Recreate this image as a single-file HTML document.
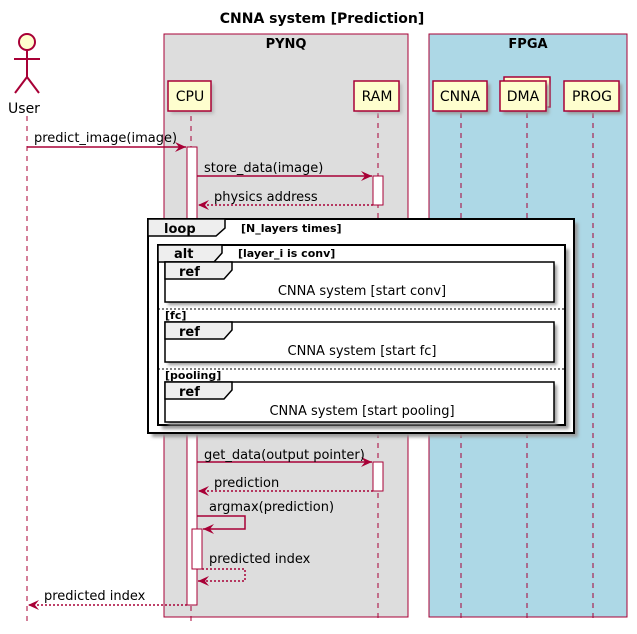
<!DOCTYPE html>
<html><head><style>body{margin:0;background:#fff}svg{display:block}text{font-family:"DejaVu Sans","Liberation Sans",sans-serif}</style></head>
<body>
<svg width="637" height="634" xmlns="http://www.w3.org/2000/svg">
<defs>
<filter id="sh" x="-10%" y="-10%" width="130%" height="130%"><feGaussianBlur stdDeviation="1.5"/></filter>
<marker id="ah" markerWidth="12" markerHeight="10" refX="11" refY="5" orient="auto" markerUnits="userSpaceOnUse"><path d="M0,0 L11,5 L0,10 L4,5 Z" fill="#A80036"/></marker>
</defs>
<text x="322" y="23" font-size="14" font-weight="bold" text-anchor="middle">CNNA system [Prediction]</text>
<rect x="164" y="34" width="244" height="583" fill="#DDDDDD" stroke="#A80036"/>
<text x="286" y="48" font-size="13" font-weight="bold" text-anchor="middle">PYNQ</text>
<rect x="429" y="34" width="198" height="583" fill="#ADD8E6" stroke="#A80036"/>
<text x="528" y="48" font-size="13" font-weight="bold" text-anchor="middle">FPGA</text>
<g stroke="#A80036" stroke-dasharray="5,5" stroke-width="1">
<line x1="27" y1="116" x2="27" y2="622"/><line x1="191" y1="116" x2="191" y2="622"/>
<line x1="378" y1="113" x2="378" y2="622"/><line x1="461" y1="113" x2="461" y2="622"/>
<line x1="527" y1="113" x2="527" y2="622"/><line x1="593" y1="113" x2="593" y2="622"/>
</g>
<g stroke="#A80036" stroke-width="2" fill="none">
<circle cx="27" cy="42" r="8" fill="#FEFECE"/>
<line x1="27" y1="50" x2="27" y2="77"/><line x1="14" y1="59" x2="40" y2="59"/>
<line x1="27" y1="77" x2="15" y2="93"/><line x1="27" y1="77" x2="39" y2="93"/>
</g>
<text x="24" y="113" font-size="14" text-anchor="middle">User</text>
<g font-size="14" text-anchor="middle">
<rect x="171" y="84" width="43" height="30" fill="#bbb" filter="url(#sh)"/>
<rect x="168" y="81" width="43" height="30" fill="#FEFECE" stroke="#A80036" stroke-width="1.5"/><text x="190" y="101">CPU</text>
<rect x="357" y="84" width="45" height="30" fill="#bbb" filter="url(#sh)"/>
<rect x="354" y="81" width="45" height="30" fill="#FEFECE" stroke="#A80036" stroke-width="1.5"/><text x="377" y="101">RAM</text>
<rect x="436" y="84" width="54" height="30" fill="#999" filter="url(#sh)"/>
<rect x="433" y="81" width="54" height="30" fill="#FEFECE" stroke="#A80036" stroke-width="1.5"/><text x="460" y="101">CNNA</text>
<rect x="504" y="77" width="46" height="30" fill="#FEFECE" stroke="#A80036" stroke-width="1.5"/>
<rect x="503" y="84" width="46" height="30" fill="#999" filter="url(#sh)"/>
<rect x="500" y="81" width="46" height="30" fill="#FEFECE" stroke="#A80036" stroke-width="1.5"/><text x="523" y="101">DMA</text>
<rect x="567" y="84" width="55" height="30" fill="#999" filter="url(#sh)"/>
<rect x="564" y="81" width="55" height="30" fill="#FEFECE" stroke="#A80036" stroke-width="1.5"/><text x="592" y="101">PROG</text>
</g>
<rect x="187" y="147" width="10" height="458" fill="#fff" stroke="#A80036"/>
<rect x="373" y="176" width="10" height="29" fill="#fff" stroke="#A80036"/>
<rect x="373" y="462" width="10" height="29" fill="#fff" stroke="#A80036"/>
<rect x="192" y="529" width="10" height="40" fill="#fff" stroke="#A80036"/>
<g stroke="#A80036" stroke-width="1.5" fill="none">
<line x1="27" y1="147" x2="186" y2="147" marker-end="url(#ah)"/>
<line x1="197" y1="176" x2="372" y2="176" marker-end="url(#ah)"/>
<line x1="373" y1="205" x2="198" y2="205" stroke-dasharray="2,2" marker-end="url(#ah)"/>
<line x1="197" y1="462" x2="372" y2="462" marker-end="url(#ah)"/>
<line x1="373" y1="491" x2="198" y2="491" stroke-dasharray="2,2" marker-end="url(#ah)"/>
<polyline points="197,516 245,516 245,529 203,529" marker-end="url(#ah)"/>
<polyline points="202,569 245,569 245,581 198,581" stroke-dasharray="2,2" marker-end="url(#ah)"/>
<line x1="187" y1="605" x2="28" y2="605" stroke-dasharray="2,2" marker-end="url(#ah)"/>
</g>
<g font-size="13">
<text x="34" y="142">predict_image(image)</text>
<text x="204" y="172">store_data(image)</text>
<text x="214" y="201">physics address</text>
<text x="204" y="459">get_data(output pointer)</text>
<text x="214" y="487">prediction</text>
<text x="209" y="511">argmax(prediction)</text>
<text x="209" y="563">predicted index</text>
<text x="44" y="600">predicted index</text>
</g>
<rect x="152" y="223" width="426" height="214" fill="#999" filter="url(#sh)"/>
<rect x="148" y="219" width="426" height="214" fill="#fff" stroke="#000" stroke-width="2"/>
<path d="M148,219 L225,219 L225,228 L216,236 L148,236 Z" fill="#EEE" stroke="#000" stroke-width="1.5"/>
<text x="164" y="233" font-size="13" font-weight="bold">loop</text>
<text x="241" y="232" font-size="11" font-weight="bold">[N_layers times]</text>
<rect x="162" y="249" width="407" height="180" fill="#999" filter="url(#sh)"/>
<rect x="158" y="245" width="407" height="180" fill="#fff" stroke="#000" stroke-width="2"/>
<path d="M158,245 L222,245 L222,253 L214,262 L158,262 Z" fill="#EEE" stroke="#000" stroke-width="1.5"/>
<text x="174" y="258" font-size="13" font-weight="bold">alt</text>
<text x="238" y="257" font-size="11" font-weight="bold">[layer_i is conv]</text>
<line x1="158" y1="309" x2="565" y2="309" stroke="#000" stroke-dasharray="2,2"/>
<text x="165" y="319" font-size="11" font-weight="bold">[fc]</text>
<line x1="158" y1="369" x2="565" y2="369" stroke="#000" stroke-dasharray="2,2"/>
<text x="165" y="379" font-size="11" font-weight="bold">[pooling]</text>
<g>
<rect x="168" y="265" width="389" height="40" fill="#999" filter="url(#sh)"/>
<rect x="165" y="262" width="389" height="40" fill="#fff" stroke="#000" stroke-width="1.5"/>
<path d="M165,262 L232,262 L232,270 L224,279 L165,279 Z" fill="#EEE" stroke="#000" stroke-width="1.5"/>
<text x="179" y="276" font-size="13" font-weight="bold">ref</text>
<text x="362" y="295" font-size="13" text-anchor="middle">CNNA system [start conv]</text>
<rect x="168" y="325" width="389" height="40" fill="#999" filter="url(#sh)"/>
<rect x="165" y="322" width="389" height="40" fill="#fff" stroke="#000" stroke-width="1.5"/>
<path d="M165,322 L232,322 L232,330 L224,339 L165,339 Z" fill="#EEE" stroke="#000" stroke-width="1.5"/>
<text x="179" y="336" font-size="13" font-weight="bold">ref</text>
<text x="362" y="355" font-size="13" text-anchor="middle">CNNA system [start fc]</text>
<rect x="168" y="385" width="389" height="40" fill="#999" filter="url(#sh)"/>
<rect x="165" y="382" width="389" height="40" fill="#fff" stroke="#000" stroke-width="1.5"/>
<path d="M165,382 L232,382 L232,390 L224,399 L165,399 Z" fill="#EEE" stroke="#000" stroke-width="1.5"/>
<text x="179" y="396" font-size="13" font-weight="bold">ref</text>
<text x="362" y="415" font-size="13" text-anchor="middle">CNNA system [start pooling]</text>
</g>
</svg>
</body></html>
